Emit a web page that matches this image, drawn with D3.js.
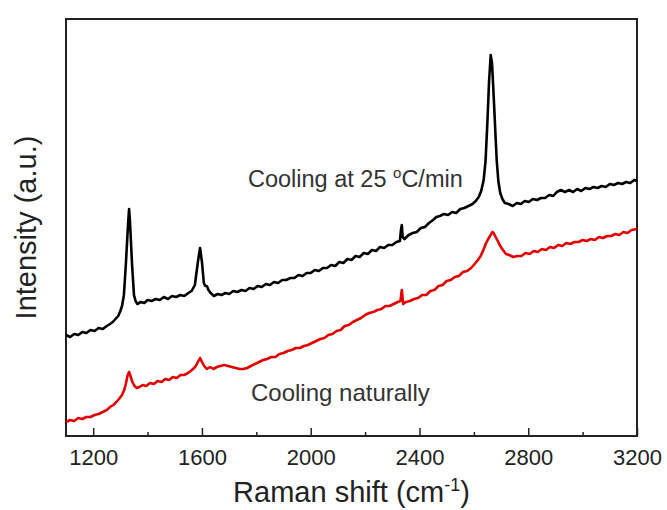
<!DOCTYPE html>
<html>
<head>
<meta charset="UTF-8">
<title>Raman spectra</title>
<style>
  body { margin: 0; background: #fff; }
  svg { display: block; }
  text { font-family: Arial, "Liberation Sans", sans-serif; }
</style>
</head>
<body>
<svg id="chart"></svg>
<script src="https://d3js.org/d3.v7.min.js"></script>
<script>
// [Raman shift (cm-1), intensity (a.u.)]
let fastSpectrum = [[1100, 101], [1115, 99], [1130, 102], [1145, 101], [1160, 104], [1175, 103], [1190, 106], [1205, 105],
  [1220, 108], [1235, 107], [1250, 110], [1262, 112], [1272, 114], [1282, 117], [1292, 120], [1300, 125], [1306, 130],
  [1313, 141], [1320, 171], [1328, 211], [1332, 227], [1335, 216], [1343, 171], [1350, 141], [1356, 135], [1362, 132],
  [1375, 134], [1388, 133], [1400, 136], [1415, 135], [1430, 137], [1445, 136], [1460, 139], [1475, 137], [1490, 140],
  [1505, 139], [1520, 141], [1535, 140], [1550, 143], [1562, 145], [1574, 151], [1585, 174], [1593, 188], [1600, 174],
  [1607, 153], [1612, 150], [1618, 150], [1624, 146], [1632, 143], [1644, 140], [1658, 142], [1672, 141], [1686, 143],
  [1700, 142], [1715, 145], [1730, 144], [1745, 146], [1760, 145], [1775, 148], [1790, 147], [1805, 150], [1820, 149],
  [1835, 152], [1850, 151], [1865, 154], [1880, 153], [1895, 156], [1910, 156], [1925, 158], [1940, 158], [1955, 161],
  [1970, 160], [1985, 163], [2000, 163], [2015, 166], [2030, 165], [2045, 168], [2060, 168], [2075, 171], [2090, 170],
  [2105, 174], [2120, 173], [2135, 177], [2150, 176], [2165, 180], [2180, 179], [2195, 183], [2210, 182], [2225, 186],
  [2240, 185], [2255, 189], [2270, 188], [2285, 191], [2300, 191], [2315, 194], [2328, 195], [2332, 206], [2335, 211],
  [2338, 199], [2345, 197], [2360, 201], [2375, 203], [2390, 204], [2405, 208], [2420, 209], [2435, 213], [2450, 216],
  [2462, 219], [2475, 220], [2490, 222], [2505, 221], [2520, 224], [2535, 223], [2550, 227], [2565, 228], [2580, 230],
  [2595, 232], [2607, 235], [2618, 239], [2627, 245], [2636, 256], [2643, 275], [2650, 315], [2656, 355], [2662, 381],
  [2667, 372], [2672, 345], [2677, 316], [2684, 276], [2690, 255], [2697, 243], [2705, 237], [2714, 233], [2728, 232],
  [2743, 230], [2758, 233], [2773, 232], [2787, 235], [2802, 234], [2817, 237], [2832, 236], [2847, 238], [2862, 238],
  [2877, 241], [2892, 240], [2905, 244], [2920, 246], [2935, 244], [2950, 246], [2965, 244], [2980, 247], [2995, 245],
  [3010, 248], [3025, 247], [3040, 249], [3055, 248], [3070, 250], [3085, 249], [3100, 252], [3115, 251], [3130, 253],
  [3145, 252], [3160, 254], [3175, 253], [3190, 256], [3200, 255]];

let naturalSpectrum = [[1100, 14], [1115, 16], [1130, 15], [1145, 18], [1160, 17], [1175, 19], [1190, 19], [1205, 21],
  [1220, 22], [1235, 24], [1250, 26], [1262, 29], [1274, 31], [1285, 34], [1295, 37], [1306, 41], [1314, 46], [1320, 52],
  [1326, 60], [1332, 64], [1337, 60], [1344, 54], [1352, 50], [1360, 48], [1370, 49], [1382, 51], [1395, 50], [1409, 53],
  [1423, 52], [1437, 55], [1451, 54], [1465, 57], [1479, 56], [1493, 59], [1507, 58], [1521, 61], [1535, 61], [1549, 63],
  [1563, 66], [1575, 69], [1585, 74], [1593, 78], [1600, 74], [1608, 70], [1618, 67], [1630, 69], [1642, 67], [1655, 69],
  [1668, 70], [1682, 71], [1696, 70], [1710, 69], [1724, 68], [1738, 67], [1752, 67], [1766, 68], [1780, 70], [1795, 72],
  [1810, 74], [1825, 76], [1840, 77], [1855, 79], [1870, 79], [1885, 82], [1900, 83], [1915, 85], [1930, 86], [1945, 88],
  [1960, 88], [1975, 90], [1990, 91], [2005, 93], [2020, 95], [2035, 97], [2050, 98], [2065, 101], [2080, 102],
  [2095, 105], [2110, 106], [2125, 110], [2140, 111], [2155, 114], [2170, 116], [2185, 118], [2200, 121], [2215, 123],
  [2230, 124], [2245, 126], [2260, 127], [2275, 130], [2290, 130], [2305, 132], [2320, 134], [2330, 135], [2335, 146],
  [2340, 132], [2350, 134], [2365, 135], [2380, 137], [2395, 138], [2410, 141], [2425, 141], [2440, 145], [2455, 146],
  [2470, 150], [2485, 151], [2500, 155], [2515, 156], [2530, 159], [2545, 160], [2560, 164], [2575, 165], [2590, 168],
  [2603, 172], [2615, 176], [2625, 180], [2635, 186], [2645, 193], [2655, 198], [2662, 201], [2668, 204], [2673, 203],
  [2680, 199], [2688, 195], [2697, 190], [2707, 186], [2718, 182], [2730, 181], [2745, 179], [2760, 180], [2775, 180],
  [2790, 183], [2805, 182], [2820, 185], [2835, 184], [2850, 187], [2865, 186], [2880, 189], [2895, 188], [2910, 191],
  [2925, 190], [2940, 193], [2955, 192], [2970, 194], [2985, 194], [3000, 196], [3015, 195], [3030, 197], [3045, 196],
  [3060, 199], [3075, 198], [3090, 200], [3105, 200], [3120, 202], [3135, 201], [3150, 204], [3165, 203], [3180, 206],
  [3200, 207]];

let xTicks = [1200, 1600, 2000, 2400, 2800, 3200];
let xMinorTicks = [1400, 1800, 2200, 2600, 3000];

let width = 667, height = 510;
let margin = {top: 19, right: 30, bottom: 74, left: 66};

let svg = d3.select("#chart")
  .attr("width", width)
  .attr("height", height);

let x = d3.scaleLinear()
  .domain([1100, 3200])
  .range([margin.left, width - margin.right]);

let y = d3.scaleLinear()
  .domain([0, 417])
  .range([height - margin.bottom, margin.top]);

// x axis, ticks pointing inward
let xAxis = svg.append("g")
  .attr("transform", "translate(0," + (height - margin.bottom) + ")")
  .call(d3.axisBottom(x).tickValues(xTicks).tickSize(-8).tickPadding(13).tickFormat(d3.format("d")));
xAxis.select(".domain").remove();
xAxis.selectAll(".tick line").attr("stroke", "#222").attr("stroke-width", 1.5);
xAxis.selectAll(".tick text").attr("font-size", 22).attr("fill", "#222");

svg.append("g")
  .attr("transform", "translate(0," + (height - margin.bottom) + ")")
  .call(d3.axisBottom(x).tickValues(xMinorTicks).tickSize(-4).tickFormat(""))
  .call(g => g.select(".domain").remove())
  .selectAll(".tick line").attr("stroke", "#222").attr("stroke-width", 1.5);

// frame
svg.append("rect")
  .attr("x", margin.left)
  .attr("y", margin.top)
  .attr("width", width - margin.left - margin.right)
  .attr("height", height - margin.top - margin.bottom)
  .attr("fill", "none")
  .attr("stroke", "#222")
  .attr("stroke-width", 2);

let line = d3.line()
  .x(d => x(d[0]))
  .y(d => y(d[1]));

// naturally cooled sample
svg.append("path")
  .datum(naturalSpectrum)
  .attr("fill", "none")
  .attr("stroke", "#e00000")
  .attr("stroke-width", 2.6)
  .attr("stroke-linejoin", "round")
  .attr("d", line);

// 25 C/min sample
svg.append("path")
  .datum(fastSpectrum)
  .attr("fill", "none")
  .attr("stroke", "#000")
  .attr("stroke-width", 2.6)
  .attr("stroke-linejoin", "round")
  .attr("d", line);

// labels on the curves
svg.append("text")
  .attr("x", 248).attr("y", 187)
  .attr("font-size", 23.5).attr("fill", "#333")
  .html('Cooling at 25 <tspan dy="-9" font-size="15">o</tspan><tspan dy="9">C/min</tspan>');

svg.append("text")
  .attr("x", 251).attr("y", 401)
  .attr("font-size", 24).attr("fill", "#333")
  .text("Cooling naturally");

// axis titles
svg.append("text")
  .attr("x", (margin.left + width - margin.right) / 2)
  .attr("y", 502)
  .attr("text-anchor", "middle")
  .attr("font-size", 29).attr("fill", "#222")
  .html('Raman shift (cm<tspan dy="-11" font-size="18">-1</tspan><tspan dy="11">)</tspan>');

svg.append("text")
  .attr("transform", "translate(36," + (margin.top + (height - margin.top - margin.bottom) / 2) + ") rotate(-90)")
  .attr("text-anchor", "middle")
  .attr("font-size", 29).attr("fill", "#222")
  .text("Intensity (a.u.)");
</script>
</body>
</html>
